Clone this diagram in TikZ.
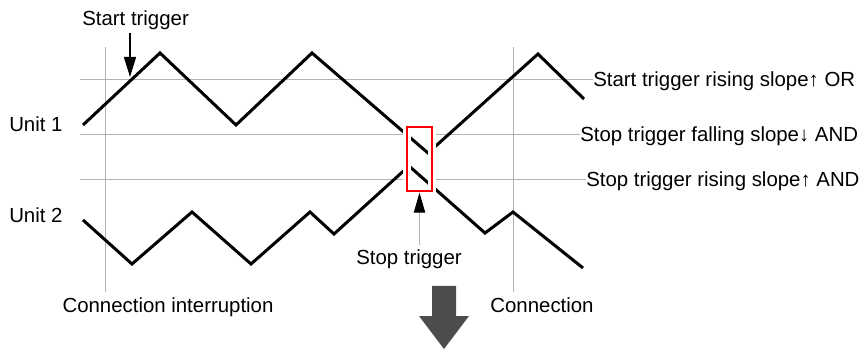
\documentclass[tikz,border=0pt]{standalone}
\usepackage{fontspec}
\setmainfont{Liberation Sans}
\usetikzlibrary{arrows.meta,positioning}

\begin{document}
\begin{tikzpicture}[
  x=0.75pt, y=-0.75pt,
  guide/.style={draw=black!30, line width=0.75pt},
  wave/.style={draw=black, line width=2.25pt},
  lab/.style={inner sep=0pt, font=\fontsize{15.3}{18}\selectfont},
  trigbox/.style={draw=red, line width=1.5pt, inner sep=0pt, minimum width=18.75pt, minimum height=48pt},
  arrow/.style={-{Triangle[length=15pt, width=9pt]}, line width=1.1pt},
  stoparrow/.style={guide, -{Triangle[length=15pt, width=8.5pt, color=black]}}
]
\useasboundingbox (0,0) rectangle (861,349);

% labels
\node[lab, anchor=base west] (starttrig) at (82,26) {Start trigger};
\node[lab, anchor=base west] (unit1) at (9,132) {Unit 1};
\node[lab, anchor=base west] (unit2) at (9,223) {Unit 2};
\node[lab, anchor=base] (stoplab) at (409,265) {Stop trigger};
\node[lab, anchor=base] (cutlab) at (168,312) {Connection interruption};
\node[lab, anchor=base] (joinlab) at (542,312) {Connection};
\node[lab, anchor=base west] (startrise) at (593,87) {Start trigger rising slope↑ OR};
\node[lab, anchor=base west] (stopfall) at (580,142) {Stop trigger falling slope↓ AND};
\node[lab, anchor=base west] (stoprise) at (586,187) {Stop trigger rising slope↑ AND};

% level lines
\coordinate (lv1) at (80,80);
\coordinate (lv2) at (80,135);
\coordinate (lv3) at (80,180);
\draw[guide] (lv1) -- (lv1 -| startrise.west);
\draw[guide] (lv2) -- (lv2 -| stopfall.west);
\draw[guide] (lv3) -- (lv3 -| stoprise.west);

% connection marks
\coordinate (cut) at (105,47);
\coordinate (join) at (513,47);
\draw[guide] (cut) -- ++(0,245);
\draw[guide] (join) -- ++(0,245);

% clear the area round the box
\fill[white] (403,123) rectangle (436,195);

% waveforms
\draw[wave] (83,125) -- (160,53) -- (236,125) -- (312,53) -- (428,153) -- (538,54) -- (584,99);
\draw[wave] (83,220) -- (132,264) -- (192,212) -- (251,264) -- (310,212) -- (334,234)
  -- (409,166) -- (485,233) -- (513,212) -- (583,268);

% stop trigger box
\draw[white, line width=6pt] (407,127) rectangle (432,191);
\node[trigbox] (stopbox) at (419.5,159) {};

% trigger arrows
\coordinate (starthit) at (130,77);
\draw[arrow, shorten <=2pt] (starthit |- starttrig.south) -- (starthit);
\draw[stoparrow, shorten <=3.5pt, shorten >=0.5pt] (stopbox.south |- stoplab.north) -- (stopbox.south);

% result arrow
\fill[black!70] (432,286) -- (456,286) -- (456,316) -- (469,316) -- (444,349) -- (419,316) -- (432,316) -- cycle;

\end{tikzpicture}
\end{document}
